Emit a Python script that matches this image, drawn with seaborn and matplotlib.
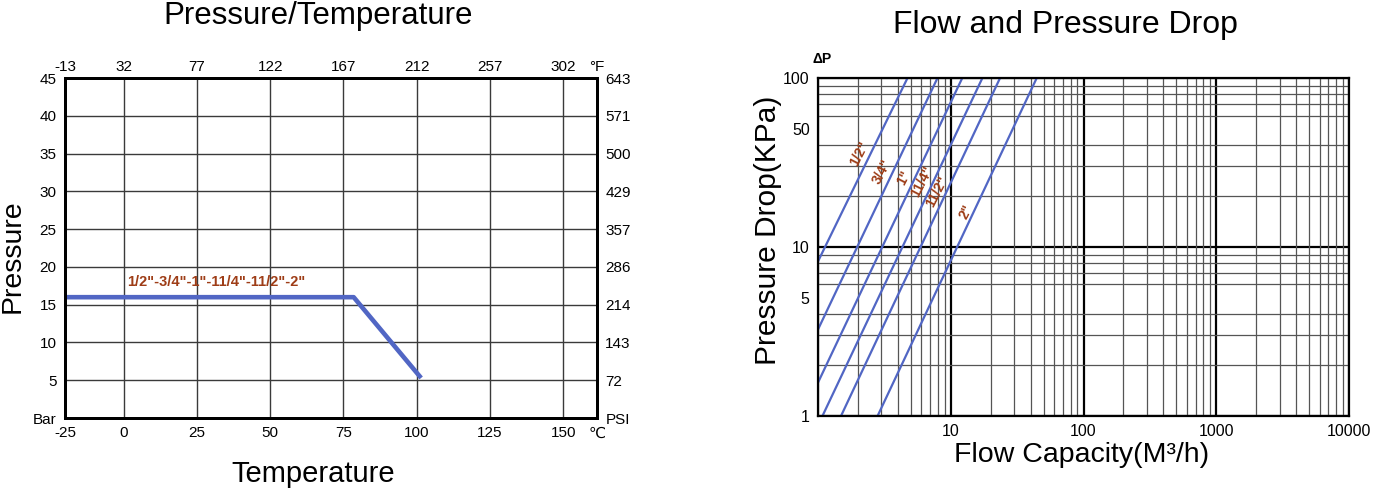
import numpy as np
import pandas as pd
import matplotlib
matplotlib.use("Agg")
import matplotlib.pyplot as plt
import seaborn as sns
from matplotlib.ticker import FixedLocator, NullFormatter, LogLocator

# ---------------- data: pressure / temperature ----------------
temp_c = [-20, 78.5, 101.5]
pressure_bar = [16, 16, 5.3]
c_ticks = [0, 25, 50, 75, 100, 125, 150]
c_labels = ["0", "25", "50", "75", "100", "125", "150"]
f_labels = ["32", "77", "122", "167", "212", "257", "302"]
bar_ticks = [5, 10, 15, 20, 25, 30, 35, 40, 45]
bar_labels = ["5", "10", "15", "20", "25", "30", "35", "40", "45"]
psi_labels = ["72", "143", "214", "286", "357", "429", "500", "571", "643"]
size_text = '1/2"-3/4"-1"-11/4"-11/2"-2"'

# ---------------- data: flow / pressure drop ----------------
sizes = ['1/2"', '3/4"', '1"', '11/4"', '11/2"', '2"']
flow_at_1kpa = [0.27, 0.49, 0.76, 1.08, 1.49, 2.81]
flow_at_100kpa = [4.72, 7.94, 12.2, 17.3, 23.5, 44.4]
label_flow = [2.04, 3.06, 4.46, 6.12, 7.94, 13.0]
label_dp = [35.8, 27.9, 25.5, 24.3, 21.2, 16.2]
dp_ticks = [1, 5, 10, 50, 100]
flow_ticks = [10, 100, 1000, 10000]

sns.set_style("white")
plt.rcParams["font.family"] = ["Liberation Sans", "DejaVu Sans"]
plt.rcParams["text.color"] = "black"
plt.rcParams["xtick.color"] = "black"
plt.rcParams["ytick.color"] = "black"
plt.rcParams["axes.labelcolor"] = "black"

BLUE = "#5166c4"
BROWN = "#9e3d17"

fig = plt.figure(figsize=(13.73, 4.94), dpi=100)

# ================= left chart =================
ax = fig.add_axes([0.0473, 0.1538, 0.3875, 0.688])
df_pt = pd.DataFrame({"temp": temp_c, "pressure": pressure_bar})
sns.lineplot(data=df_pt, x="temp", y="pressure", ax=ax, color=BLUE,
             lw=3.3, sort=False, solid_capstyle="butt")
xmin, xmax = -20, 161.5
ax.set_xlim(xmin, xmax)
ax.set_ylim(0, 45)
ax.set_xticks([xmin] + c_ticks + [xmax])
ax.set_xticklabels(["-25"] + c_labels + ["\u2103"])
ax.set_yticks([0] + bar_ticks)
ax.set_yticklabels(["Bar"] + bar_labels)
ax.grid(True, color="#3a3a3a", lw=1)
ax.set_axisbelow(True)
ax.tick_params(length=0, labelsize=11, pad=6)
for s in ax.spines.values():
    s.set_linewidth(2)
    s.set_color("black")
ax.set_xlabel("")
ax.set_ylabel("")

axt = ax.twiny()
axt.set_xlim(xmin, xmax)
axt.set_xticks([xmin] + c_ticks + [xmax])
axt.set_xticklabels(["-13"] + f_labels + ["\u00b0F"])
axt.tick_params(length=0, labelsize=11, pad=3)

axr = ax.twinx()
axr.set_ylim(0, 45)
axr.set_yticks([0] + bar_ticks)
axr.set_yticklabels(["PSI"] + psi_labels)
axr.tick_params(length=0, labelsize=11, pad=6)
for a in (axt, axr):
    for s in a.spines.values():
        s.set_linewidth(2)
        s.set_color("black")

ax.text(1.2, 17.1, size_text, color=BROWN, fontsize=10.5, fontweight="bold",
        ha="left", va="bottom")

fig.text(0.232, 1 - 24 / 494, "Pressure/Temperature", fontsize=22.5,
         ha="center", va="baseline")
fig.text(0.228, 0.04, "Temperature", fontsize=21, ha="center", va="center")
fig.text(0.009, 0.482, "Pressure", fontsize=20.5, ha="center", va="center", rotation=90)

# ================= right chart =================
bx = fig.add_axes([0.5958, 0.158, 0.3867, 0.684])
rows = []
for s, q1, q100 in zip(sizes, flow_at_1kpa, flow_at_100kpa):
    rows.append({"size": s, "flow": q1, "dp": 1.0})
    rows.append({"size": s, "flow": q100, "dp": 100.0})
df_fp = pd.DataFrame(rows)
sns.lineplot(data=df_fp, x="flow", y="dp", hue="size", ax=bx,
             palette=[BLUE] * len(sizes), legend=False, lw=1.6, sort=False)
bx.set_xscale("log")
bx.set_yscale("log")
bx.set_xlim(1, 10000)
bx.set_ylim(1, 100)
bx.xaxis.set_major_locator(FixedLocator(flow_ticks))
bx.set_xticklabels([str(v) for v in flow_ticks])
bx.yaxis.set_major_locator(FixedLocator(dp_ticks))
bx.set_yticklabels([str(v) for v in dp_ticks])
bx.xaxis.set_minor_locator(LogLocator(base=10, subs=np.arange(2, 10)))
bx.yaxis.set_minor_locator(LogLocator(base=10, subs=np.arange(2, 10)))
bx.xaxis.set_minor_formatter(NullFormatter())
bx.yaxis.set_minor_formatter(NullFormatter())
bx.grid(False)
for v in [1, 10, 100, 1000, 10000]:
    bx.axvline(v, color="black", lw=1.6, zorder=0.5)
for v in [1, 10, 100]:
    bx.axhline(v, color="black", lw=1.6, zorder=0.5)
bx.grid(True, which="minor", color="#555555", lw=0.9)
bx.set_axisbelow(True)
bx.tick_params(which="both", length=0, labelsize=11.5, pad=6)
for s in bx.spines.values():
    s.set_linewidth(1.6)
    s.set_color("black")
bx.set_xlabel("")
bx.set_ylabel("")

for s, qx, py in zip(sizes, label_flow, label_dp):
    bx.text(qx, py, s, color=BROWN, fontsize=10, fontweight="bold",
            rotation=63, ha="center", va="center", rotation_mode="anchor")

bx.text(-0.01, 1.035, "\u0394P", transform=bx.transAxes, fontsize=10,
        fontweight="bold", ha="left", va="bottom")

fig.text(0.776, 1 - 33 / 494, "Flow and Pressure Drop", fontsize=23,
         ha="center", va="baseline")
fig.text(0.788, 0.078, "Flow Capacity(M\u00b3/h)", fontsize=20.5, ha="center", va="center")
fig.text(0.559, 0.534, "Pressure Drop(KPa)", fontsize=21.5, ha="center", va="center",
         rotation=90)

fig.savefig("out.png", dpi=100)
